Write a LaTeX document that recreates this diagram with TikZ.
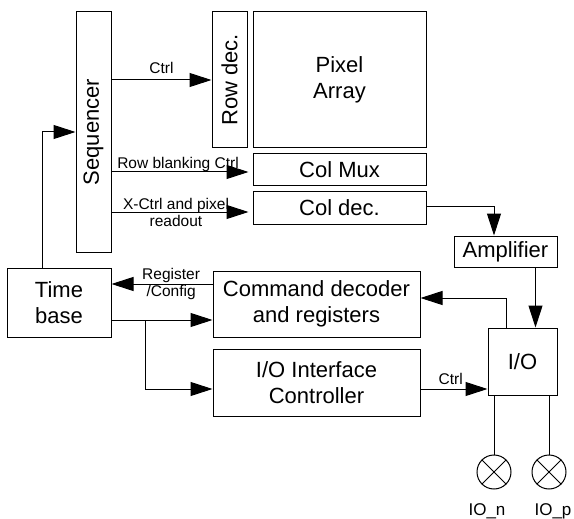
\documentclass[tikz,border=0pt]{standalone}
\usepackage{fontspec}
\setmainfont{Liberation Sans}
\usepackage{tikz}
\usetikzlibrary{positioning, arrows.meta, calc}
\newcommand{\bigtxt}{\fontsize{22}{26}\selectfont}
\newcommand{\smalltxt}{\fontsize{15.5}{17}\selectfont}
\tikzset{
  blk/.style={draw, line width=1pt, rectangle, inner sep=0pt, font=\bigtxt, align=center},
  arr/.style={draw, line width=1pt, -{Triangle[length=22pt, width=14pt]}},
  wire/.style={draw, line width=1pt},
  lbl/.style={font=\smalltxt, inner sep=0pt, align=center},
  pad/.style={draw, circle, line width=1pt, minimum size=34pt, inner sep=0pt},
}

\begin{document}
\begin{tikzpicture}[x=1pt, y=-1pt]
  \useasboundingbox (0,0) rectangle (574,519);

  % Blocks
  \node[blk, rotate=90, minimum width=240pt, minimum height=35pt] (seq) at (93.5,132) {Sequencer};
  \node[blk, rotate=90, minimum width=136pt, minimum height=35pt] (rowdec) at (229.5,80) {Row dec.};
  \node[blk, minimum width=173pt, minimum height=136pt] (pix) at (339.5,80) {Pixel\\Array};
  \node[blk, minimum width=173pt, minimum height=32pt] (colmux) at (339.5,170) {Col Mux};
  \node[blk, minimum width=173pt, minimum height=32pt] (coldec) at (339.5,208) {Col dec.};
  \node[blk, minimum width=103pt, minimum height=31pt] (amp) at (505.5,251.5) {Amplifier};
  \node[blk, minimum width=104pt, minimum height=69pt] (tb) at (59,302.5) {Time\\base};
  \node[blk, minimum width=207pt, minimum height=66pt] (cmd) at (316.5,304) {Command decoder\\and registers};
  \node[blk, minimum width=207pt, minimum height=67pt] (ioic) at (316.5,382.5) {I/O Interface\\Controller};
  \node[blk, minimum width=69pt, minimum height=67pt] (io) at (522.5,361.5) {I/O};

  % Pads
  \node[pad] (ion) at (494,472) {};
  \node[pad] (iop) at (549,472) {};
  \foreach \p in {ion, iop} {
    \draw[line width=0.8pt] (\p.north east) -- (\p.south west);
    \draw[line width=0.8pt] (\p.north west) -- (\p.south east);
  }
  \node[font=\fontsize{17}{19}\selectfont] (ionlbl) at (487,511) {IO\_n};
  \node[font=\fontsize{17}{19}\selectfont] (ioplbl) at (553,511) {IO\_p};

  % Sequencer outputs
  \draw[arr] (seq.south |- rowdec.north) -- node[lbl, above=6pt] {Ctrl} (rowdec.north);
  \draw[arr, shorten >=4pt] ([yshift=-2pt]seq.south |- colmux.west) -- ([yshift=-2pt]colmux.west);
  \node[lbl] (rbl) at (178,164) {Row blanking Ctrl};
  \draw[arr, shorten >=4pt] ([yshift=-4pt]seq.south |- coldec.west) -- ([yshift=-4pt]coldec.west);
  \node[lbl] (xcl) at (176,212) {X-Ctrl and pixel\\readout};

  % Readout path
  \draw[arr] ([yshift=2pt]coldec.east) -| ([xshift=-11.5pt]amp.north);
  \draw[arr] ([xshift=30pt]amp.south) -- ([xshift=30pt]amp.south |- io.north);
  \draw[arr] ([xshift=-16.5pt]io.north) |- ([yshift=6pt]cmd.east);
  \draw[arr] ([yshift=-6.5pt]ioic.east) -- node[lbl, above=4pt, pos=0.45] {Ctrl} ([yshift=-6.5pt]ioic.east -| io.west);
  \draw[wire] ([xshift=-28.5pt]io.south) -- (ion.north);
  \draw[wire] ([xshift=26.5pt]io.south) -- (iop.north);

  % Time base
  \draw[arr] ([yshift=20pt]cmd.west) -- node[lbl, pos=0.41] {Register\\/Config} ([yshift=20pt]cmd.west -| tb.east);
  \draw[arr] ([yshift=-17.5pt]tb.east) -- ([yshift=-17.5pt]tb.east -| cmd.west);
  \coordinate (br) at ([xshift=34pt, yshift=-17.5pt]tb.east);
  \draw[arr] (br) |- ([yshift=-6.5pt]ioic.west);
  \draw[arr] ([xshift=-17pt]tb.north) |- (seq.north);

\end{tikzpicture}
\end{document}
